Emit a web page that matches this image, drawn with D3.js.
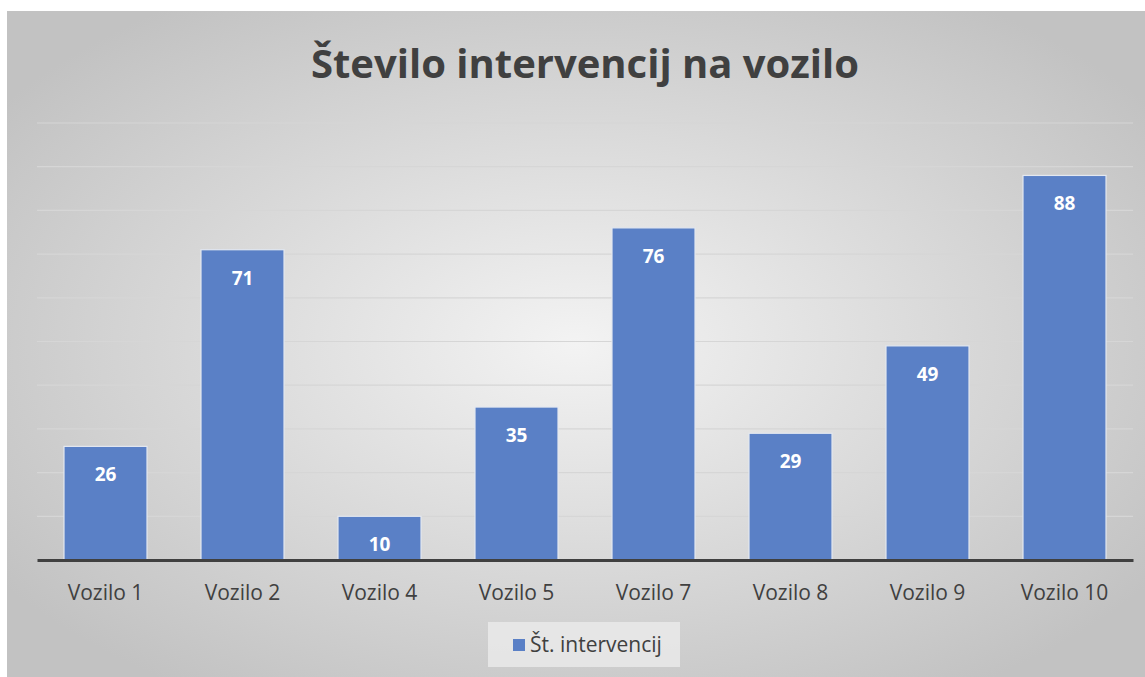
<!DOCTYPE html>
<html>
<head>
<meta charset="utf-8">
<script src="https://cdn.jsdelivr.net/npm/d3@7"></script>
<style>
  html, body { margin: 0; padding: 0; background: #fff; }
  svg { display: block; }
</style>
</head>
<body>
<svg id="grafico"></svg>
<script>
const categorije = ["Vozilo 1", "Vozilo 2", "Vozilo 4", "Vozilo 5", "Vozilo 7", "Vozilo 8", "Vozilo 9", "Vozilo 10"];
const intervencije = [26, 71, 10, 35, 76, 29, 49, 88];
const mreza = [10, 20, 30, 40, 50, 60, 70, 80, 90, 100];
const naslov = "Število intervencij na vozilo";
const legenda = "Št. intervencij";

const sirina = 1145;
const visina = 677;
const okvir = { x: 7, y: 11, w: 1138, h: 666 };
const margem = { top: 123, right: 12, bottom: 117, left: 37 };

const svg = d3.select("#grafico")
    .attr("width", sirina)
    .attr("height", visina);

// Ozadje z radialnim prelivom
const defs = svg.append("defs");
const grad = defs.append("radialGradient")
    .attr("id", "ozadje")
    .attr("cx", "50%").attr("cy", "50%").attr("r", "62%");
grad.append("stop").attr("offset", "0%").attr("stop-color", "#f3f3f3");
grad.append("stop").attr("offset", "100%").attr("stop-color", "#c2c2c2");

svg.append("rect")
    .attr("x", okvir.x).attr("y", okvir.y)
    .attr("width", okvir.w).attr("height", okvir.h)
    .attr("fill", "url(#ozadje)");

// Lestvice
const x = d3.scaleBand()
    .domain(categorije)
    .range([margem.left, sirina - margem.right])
    .paddingInner(0.394)
    .paddingOuter(0.197);

const y = d3.scaleLinear()
    .domain([0, 100])
    .range([visina - margem.bottom, margem.top]);

// Mreža
svg.append("g")
    .selectAll("line")
    .data(mreza)
    .join("line")
    .attr("x1", margem.left)
    .attr("x2", sirina - margem.right)
    .attr("y1", d => y(d))
    .attr("y2", d => y(d))
    .attr("stroke", "#d6d6d6")
    .attr("stroke-width", 1.2);

// Stolpci
svg.append("g")
    .selectAll("rect")
    .data(intervencije)
    .join("rect")
    .attr("x", (d, i) => x(categorije[i]))
    .attr("y", d => y(d))
    .attr("width", x.bandwidth())
    .attr("height", d => y(0) - y(d))
    .attr("fill", "#5a80c6")
    .attr("stroke", "#e4e8f0")
    .attr("stroke-width", 1.2);

// Vrednosti
svg.append("g")
    .selectAll("text")
    .data(intervencije)
    .join("text")
    .attr("x", (d, i) => x(categorije[i]) + x.bandwidth() / 2)
    .attr("y", d => y(d) + 35)
    .attr("text-anchor", "middle")
    .attr("fill", "#ffffff")
    .attr("font-family", "'Open Sans', sans-serif")
    .attr("font-weight", "bold")
    .attr("font-size", 19)
    .text(d => d);

// Os x
const osX = svg.append("g")
    .attr("transform", `translate(0, ${y(0)})`)
    .call(d3.axisBottom(x).tickSize(0).tickPadding(25));
osX.select(".domain")
    .attr("stroke", "#404040")
    .attr("stroke-width", 3);
osX.selectAll("text")
    .attr("fill", "#404040")
    .attr("font-family", "'Open Sans', sans-serif")
    .attr("font-size", 21);

// Naslov
svg.append("text")
    .attr("x", 585)
    .attr("y", 78)
    .attr("text-anchor", "middle")
    .attr("fill", "#404040")
    .attr("font-family", "'Open Sans', sans-serif")
    .attr("font-weight", "bold")
    .attr("font-size", 40)
    .text(naslov);

// Legenda
const leg = svg.append("g").attr("transform", "translate(488, 622)");
leg.append("rect")
    .attr("width", 192).attr("height", 45)
    .attr("fill", "#ebebeb")
    .attr("opacity", 0.8);
leg.append("rect")
    .attr("x", 25).attr("y", 17)
    .attr("width", 12).attr("height", 12)
    .attr("fill", "#5a80c6");
leg.append("text")
    .attr("x", 42).attr("y", 30)
    .attr("fill", "#404040")
    .attr("font-family", "'Open Sans', sans-serif")
    .attr("font-size", 21)
    .text(legenda);
</script>
</body>
</html>
